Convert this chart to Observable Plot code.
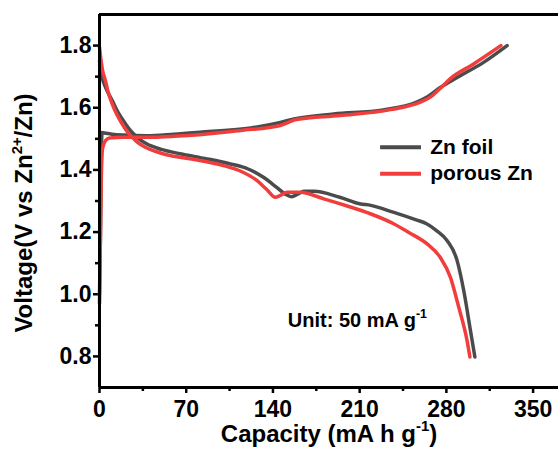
<!DOCTYPE html>
<html>
<head>
<meta charset="utf-8">
<script src="https://cdn.jsdelivr.net/npm/d3@7"></script>
<script src="https://cdn.jsdelivr.net/npm/@observablehq/plot@0.6"></script>
<style>
  html, body { margin: 0; padding: 0; background: #fff; }
  #chart svg { display: block; }
</style>
</head>
<body>
<div id="chart"></div>
<script>
// ---- data ----
const seriesNames = ["Zn foil", "porous Zn"];
const seriesColors = ["#4b4b4b", "#f23d3d"];

// Zn foil – charge
const foilChargeCap = [0, 0.8, 1.5, 2, 5, 10, 20, 38, 60, 83, 122, 146, 157, 189, 229, 256, 264, 275, 289, 310, 329];
const foilChargeV   = [0.97, 1.2, 1.45, 1.52, 1.518, 1.515, 1.512, 1.51, 1.515, 1.522, 1.535, 1.553, 1.564, 1.58, 1.593, 1.618, 1.634, 1.665, 1.698, 1.746, 1.8];
// Zn foil – discharge
const foilDisCap = [0, 2, 5, 10.3, 15, 21, 26, 31.8, 38, 50, 65, 85, 105, 120, 132, 143, 150, 155, 160, 165, 173, 194, 210, 219, 237, 255, 264, 272, 280.5, 288.6, 294, 299.4, 303];
const foilDisV   = [1.75, 1.7, 1.665, 1.623, 1.585, 1.548, 1.522, 1.5, 1.484, 1.466, 1.452, 1.437, 1.42, 1.403, 1.377, 1.344, 1.322, 1.314, 1.322, 1.331, 1.331, 1.312, 1.291, 1.286, 1.264, 1.24, 1.227, 1.205, 1.173, 1.109, 1.012, 0.884, 0.798];

// porous Zn – charge
const porousChargeCap = [0, 0.8, 1.5, 2.5, 5, 8, 20, 38, 60, 83, 114, 146, 159, 194, 235, 259, 267, 275, 283, 302, 324];
const porousChargeV   = [1.0, 1.2, 1.38, 1.47, 1.495, 1.503, 1.505, 1.505, 1.508, 1.514, 1.527, 1.543, 1.562, 1.575, 1.594, 1.618, 1.634, 1.662, 1.693, 1.741, 1.8];
// porous Zn – discharge
const porousDisCap = [0, 1, 2.5, 4.8, 7, 10.3, 14, 18.3, 22, 26.4, 31, 37, 45, 55, 73, 100, 115, 127, 135, 141.9, 146, 151.3, 162, 181, 200, 218.6, 237.4, 250, 264.4, 275, 283.2, 290, 296.7, 299];
const porousDisV   = [1.795, 1.76, 1.72, 1.687, 1.65, 1.612, 1.578, 1.548, 1.525, 1.505, 1.488, 1.473, 1.46, 1.448, 1.436, 1.414, 1.394, 1.366, 1.337, 1.312, 1.318, 1.328, 1.328, 1.307, 1.284, 1.259, 1.227, 1.198, 1.162, 1.119, 1.055, 0.958, 0.851, 0.798];

const xTicks = [0, 70, 140, 210, 280, 350];
const xMinorTicks = [35, 105, 175, 245, 315];
const yTicks = [0.8, 1.0, 1.2, 1.4, 1.6, 1.8];
const yMinorTicks = [0.9, 1.1, 1.3, 1.5, 1.7];

const xTitle = "Capacity (mA h g^{-1})";
const yTitle = "Voltage(V vs Zn^{2+}/Zn)";
const noteText = "Unit: 50 mA g^{-1}";

// ---- build table ----
function rows(series, branch, caps, vs) {
  return caps.map((c, i) => ({series, branch, key: series + "-" + branch, cap: c, v: vs[i]}));
}
const data = [
  ...rows(seriesNames[0], "charge", foilChargeCap, foilChargeV),
  ...rows(seriesNames[0], "discharge", foilDisCap, foilDisV),
  ...rows(seriesNames[1], "charge", porousChargeCap, porousChargeV),
  ...rows(seriesNames[1], "discharge", porousDisCap, porousDisV)
];

// legend / annotation placement (data units)
const legendX1 = 226.5, legendX2 = 259.5, legendTextX = 267;
const legendY = [1.473, 1.388];
const noteX = 152, noteY = 0.916;

const font = "'Liberation Sans', Arial, Helvetica, sans-serif";

const chart = Plot.plot({
  width: 558,
  height: 456,
  marginLeft: 99,
  marginRight: 0,
  marginTop: 14,
  marginBottom: 69,
  style: {fontFamily: font, fontWeight: "bold", background: "#fff", color: "#000"},
  x: {domain: [0, 370.5], label: null},
  y: {domain: [0.7, 1.9], label: null},
  color: {domain: seriesNames, range: seriesColors},
  marks: [
    Plot.axisX({ticks: xTicks, tickSize: 6, tickPadding: 7, strokeWidth: 2.5, fontSize: 23, fontWeight: "bold", label: null, tickFormat: d => String(d)}),
    Plot.axisX({ticks: xMinorTicks, tickSize: 4, strokeWidth: 2.5, label: null, tickFormat: () => ""}),
    Plot.axisY({ticks: yTicks, tickSize: 6, tickPadding: 2, strokeWidth: 2.5, fontSize: 23, fontWeight: "bold", label: null, tickFormat: d3.format(".1f")}),
    Plot.axisY({ticks: yMinorTicks, tickSize: 4, strokeWidth: 2.5, label: null, tickFormat: () => ""}),
    Plot.line(data.filter(d => d.series === seriesNames[0]), {x: "cap", y: "v", z: "key", stroke: "series", strokeWidth: 3.5, curve: "monotone-x"}),
    Plot.line(data.filter(d => d.series === seriesNames[1]), {x: "cap", y: "v", z: "key", stroke: "series", strokeWidth: 3.5, curve: "monotone-x"}),
    Plot.ruleX([0], {stroke: "#000", strokeWidth: 3}),
    Plot.ruleY([0.7], {stroke: "#000", strokeWidth: 3}),
    Plot.ruleY([1.9], {stroke: "#000", strokeWidth: 3}),
    // legend
    Plot.link(seriesNames, {x1: legendX1, x2: legendX2, y1: (d, i) => legendY[i], y2: (d, i) => legendY[i], stroke: d => d, strokeWidth: 4}),
    Plot.text(seriesNames, {x: legendTextX, y: (d, i) => legendY[i], text: d => d, textAnchor: "start", fontSize: 21, fontWeight: "bold", fill: "#000"}),
    // annotation
    Plot.text([noteText], {x: noteX, y: noteY, textAnchor: "start", fontSize: 20, fontWeight: "bold", fill: "#000"}),
    // axis titles
    Plot.text([xTitle], {frameAnchor: "bottom", textAnchor: "middle", dy: 54, fontSize: 24, fontWeight: "bold", fill: "#000"}),
    Plot.text([yTitle], {frameAnchor: "left", textAnchor: "middle", dx: -75, dy: 12, rotate: -90, fontSize: 24, fontWeight: "bold", fill: "#000"})
  ]
});

document.getElementById("chart").appendChild(chart);

// render ^{...} as raised superscripts using tspans
d3.select(chart).selectAll("text").each(function() {
  const t = this.textContent;
  if (!t.includes("^{")) return;
  const fs = parseFloat(getComputedStyle(this).fontSize) || 16;
  const sel = d3.select(this);
  sel.text(null);
  const re = /\^\{([^}]*)\}/g;
  let last = 0, m, raised = false;
  const shift = fs * 0.42;
  while ((m = re.exec(t)) !== null) {
    if (m.index > last) {
      const sp = sel.append("tspan").text(t.slice(last, m.index));
      if (raised) { sp.attr("dy", shift); raised = false; }
    }
    sel.append("tspan").attr("dy", -shift).style("font-size", (fs * 0.62) + "px").text(m[1]);
    raised = true;
    last = re.lastIndex;
  }
  if (last < t.length) {
    const sp = sel.append("tspan").text(t.slice(last));
    if (raised) sp.attr("dy", shift);
  }
});
</script>
</body>
</html>
